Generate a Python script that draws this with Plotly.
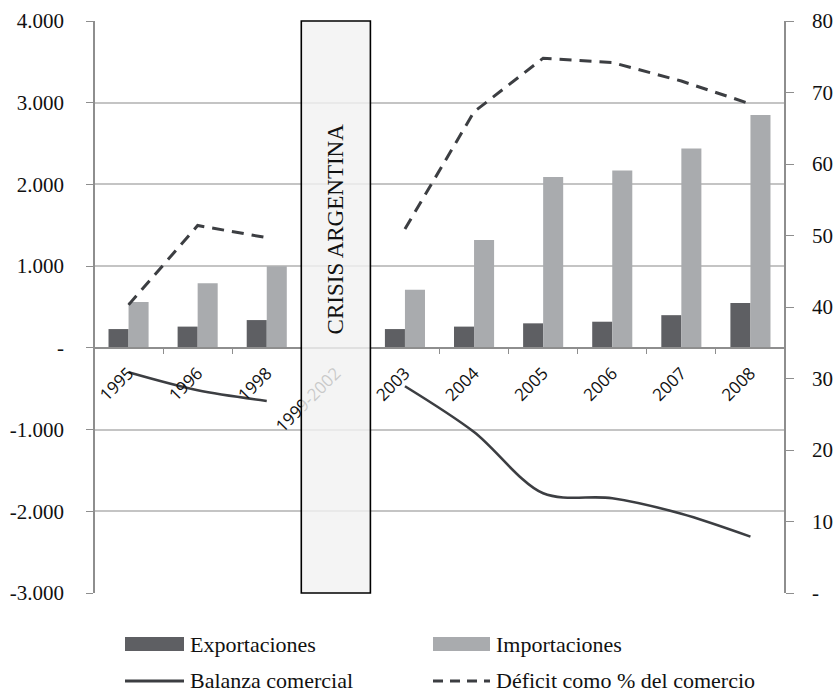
import plotly.graph_objects as go

categories = ["1995", "1996", "1998", "1999-2002", "2003", "2004", "2005", "2006", "2007", "2008"]
exportaciones = [230, 260, 340, None, 230, 260, 300, 320, 400, 550]
importaciones = [560, 790, 1000, None, 710, 1320, 2090, 2170, 2440, 2850]
balanza = [-300, -520, -650, None, -470, -1030, -1780, -1840, -2030, -2310]
deficit = [40.3, 51.4, 49.7, None, 50.9, 67.3, 74.8, 74.2, 71.6, 68.4]

left_ticks = [-3000, -2000, -1000, 0, 1000, 2000, 3000, 4000]
left_text = ["-3.000", "-2.000", "-1.000", "-", "1.000", "2.000", "3.000", "4.000"]
right_ticks = [0, 10, 20, 30, 40, 50, 60, 70, 80]
right_text = ["-", "10", "20", "30", "40", "50", "60", "70", "80"]

W, H = 834, 692
L, R, T, B = 94, 49, 21, 99
PW, PH = W - L - R, H - T - B

def px(xp):
    return (xp - L) / PW

def py(yp):
    return (H - B - yp) / PH

serif = "'Liberation Serif', 'Times New Roman', serif"
sans = "'Open Sans', 'Liberation Sans', sans-serif"
dark = "#5e5f63"
light = "#a9abae"
linec = "#3c3e42"
axisc = "#8e8e8e"

fig = go.Figure()
fig.add_trace(go.Bar(x=categories, y=exportaciones, name="Exportaciones",
                     marker=dict(color=dark, line=dict(width=0)), showlegend=False))
fig.add_trace(go.Bar(x=categories, y=importaciones, name="Importaciones",
                     marker=dict(color=light, line=dict(width=0)), showlegend=False))
fig.add_trace(go.Scatter(x=categories, y=balanza, name="Balanza comercial", mode="lines",
                         line=dict(color=linec, width=2.6, shape="spline", smoothing=0.9),
                         connectgaps=False, showlegend=False))
fig.add_trace(go.Scatter(x=categories, y=deficit, name="Déficit como % del comercio", mode="lines",
                         yaxis="y2", line=dict(color=linec, width=3, dash="12px,8px"),
                         connectgaps=False, showlegend=False))

# Crisis box
fig.add_shape(type="rect", xref="x", yref="paper", x0=2.5, x1=3.5, y0=0, y1=1,
              fillcolor="rgba(242,242,242,0.82)", line=dict(color="black", width=1.6),
              layer="above")
fig.add_annotation(x=3, y=1460, xref="x", yref="y", text="CRISIS ARGENTINA", textangle=-90,
                   showarrow=False, font=dict(family=serif, size=23, color="#111111"))

# Manual legend
legend_items = [
    ("bar", dark, "Exportaciones", 125, 184, 644),
    ("bar", light, "Importaciones", 433, 490, 644),
    ("solid", linec, "Balanza comercial", 125, 184, 681),
    ("dash", linec, "Déficit como % del comercio", 433, 490, 681),
]
for kind, col, label, x0, x1, yc in legend_items:
    if kind == "bar":
        fig.add_shape(type="rect", xref="paper", yref="paper", x0=px(x0), x1=px(x1),
                      y0=py(yc + 7), y1=py(yc - 7), fillcolor=col, line=dict(width=0))
    else:
        fig.add_shape(type="line", xref="paper", yref="paper", x0=px(x0), x1=px(x1),
                      y0=py(yc), y1=py(yc),
                      line=dict(color=col, width=3, dash="solid" if kind == "solid" else "10px,7px"))
    fig.add_annotation(xref="paper", yref="paper", x=px(x1 + 4), y=py(yc), text=label,
                       showarrow=False, xanchor="left", yanchor="middle",
                       font=dict(family=serif, size=22, color="#111111"))

fig.update_layout(
    width=W, height=H,
    margin=dict(l=L, r=R, t=T, b=B, autoexpand=False),
    paper_bgcolor="white", plot_bgcolor="white",
    barmode="group", bargap=0.42, bargroupgap=0,
    showlegend=False,
    xaxis=dict(type="category", anchor="free", position=3/7, showline=True, linecolor=axisc,
               linewidth=1.5, ticks="outside", tickson="boundaries", ticklen=5, tickcolor=axisc,
               tickangle=-45, showgrid=False, zeroline=False, automargin=False,
               ticklabelstandoff=8,
               tickfont=dict(family=sans, size=17, color="#111111")),
    yaxis=dict(range=[-3000, 4000], tickvals=left_ticks, ticktext=left_text,
               showgrid=True, gridcolor="#c4c4c4", gridwidth=1.5, zeroline=False,
               showline=True, linecolor=axisc, linewidth=1.5, ticks="outside", ticklen=7,
               tickcolor=axisc, ticklabelstandoff=18, anchor="free", position=0, automargin=False,
               tickfont=dict(family=serif, size=21, color="#111111")),
    yaxis2=dict(range=[0, 80], tickvals=right_ticks, ticktext=right_text, overlaying="y",
                side="right", showgrid=False, zeroline=False, showline=True, linecolor=axisc,
                linewidth=1.5, ticks="outside", ticklen=8, tickcolor=axisc, anchor="free",
                position=1, ticklabelstandoff=14, automargin=False,
                tickfont=dict(family=serif, size=21, color="#111111")),
)

fig.write_html("out.html")
